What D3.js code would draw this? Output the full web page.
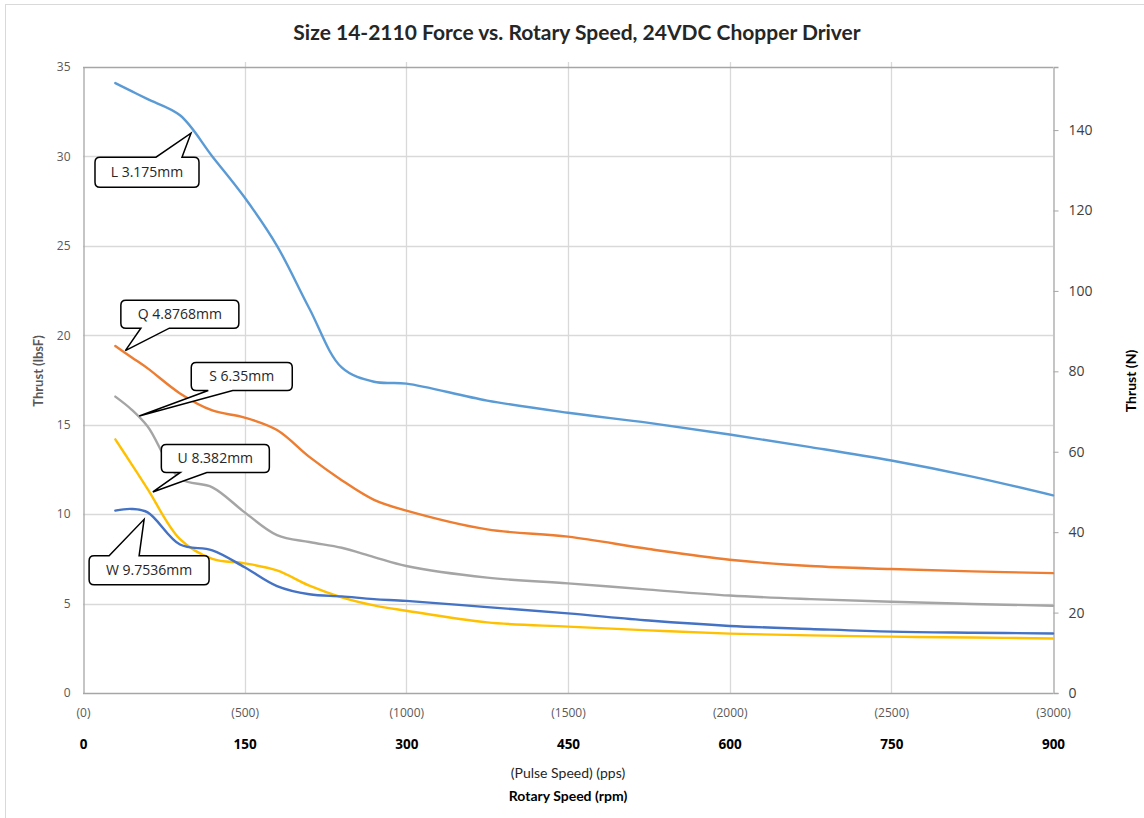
<!DOCTYPE html>
<html>
<head>
<meta charset="utf-8">
<script src="https://cdnjs.cloudflare.com/ajax/libs/d3/7.8.5/d3.min.js"></script>
<style>
  html, body { margin: 0; padding: 0; background: #fff; }
  svg { display: block; }
</style>
</head>
<body>
<svg id="chart" width="1144" height="818"></svg>
<script>
// Pulse speed sample points (pps) shared by all series
const pps = [100, 150, 200, 300, 400, 500, 600, 700, 800, 900, 1000, 1250, 1500, 1750, 2000, 2250, 2500, 2750, 3000];

// Thrust in lbsF for each lead screw
const seriesL = [34.1, 33.65, 33.2, 32.3, 30.0, 27.7, 25.0, 21.5, 18.2, 17.4, 17.3, 16.35, 15.67, 15.1, 14.45, 13.75, 13.0, 12.1, 11.05];
const seriesQ = [19.4, 18.77, 18.15, 16.75, 15.8, 15.4, 14.7, 13.2, 11.9, 10.8, 10.2, 9.15, 8.74, 8.05, 7.45, 7.1, 6.93, 6.8, 6.7];
const seriesS = [16.57, 15.85, 14.9, 12.0, 11.5, 10.1, 8.83, 8.44, 8.12, 7.6, 7.1, 6.45, 6.13, 5.78, 5.45, 5.25, 5.1, 4.98, 4.88];
const seriesU = [14.18, 12.8, 11.4, 8.6, 7.5, 7.25, 6.85, 6.0, 5.35, 4.9, 4.6, 3.95, 3.71, 3.5, 3.32, 3.22, 3.15, 3.1, 3.05];
const seriesW = [10.2, 10.29, 10.1, 8.3, 7.98, 7.03, 5.98, 5.52, 5.4, 5.25, 5.15, 4.8, 4.45, 4.05, 3.75, 3.58, 3.43, 3.37, 3.33];

const seriesNames = ["L 3.175mm", "Q 4.8768mm", "S 6.35mm", "U 8.382mm", "W 9.7536mm"];
const seriesColors = ["#5B9BD5", "#ED7D31", "#A5A5A5", "#FFC000", "#4472C4"];

// Axis tick values
const ppsTicks = [0, 500, 1000, 1500, 2000, 2500, 3000];
const rpmTicks = [0, 150, 300, 450, 600, 750, 900];
const lbsTicks = [0, 5, 10, 15, 20, 25, 30, 35];
const newtonTicks = [0, 20, 40, 60, 80, 100, 120, 140];

// Callout anchors: point on the curve (pps, lbsF)
const calloutPps = [334, 131, 174, 216, 189];
const calloutLbs = [31.3, 19.14, 15.49, 11.24, 9.71];

const LBF_TO_N = 4.448222;

const svg = d3.select("#chart");
const plotLeft = 83, plotRight = 1053, plotTop = 67, plotBottom = 693;

const x = d3.scaleLinear().domain([0, 3000]).range([plotLeft, plotRight]);
const y = d3.scaleLinear().domain([0, 35]).range([plotBottom, plotTop]);
const yN = d3.scaleLinear().domain([0, 35 * LBF_TO_N]).range([plotBottom, plotTop]);

const tickFont = "'Open Sans', sans-serif";
const titleFont = "Lato, 'Open Sans', sans-serif";

// Outer chart frame
svg.append("rect")
  .attr("x", 5.5).attr("y", 4.5)
  .attr("width", 1160).attr("height", 830)
  .attr("fill", "none").attr("stroke", "#D9D9D9").attr("stroke-width", 1);

// Title
svg.append("text")
  .attr("x", 577).attr("y", 40)
  .attr("text-anchor", "middle")
  .attr("font-family", titleFont).attr("font-weight", "bold")
  .attr("font-size", 21).attr("fill", "#262626")
  .text("Size 14-2110 Force vs. Rotary Speed, 24VDC Chopper Driver");

// Horizontal gridlines
svg.append("g").selectAll("line")
  .data(lbsTicks.filter(d => d > 0 && d < 35))
  .join("line")
  .attr("x1", plotLeft).attr("x2", plotRight)
  .attr("y1", d => Math.round(y(d)) + 0.5).attr("y2", d => Math.round(y(d)) + 0.5)
  .attr("stroke", "#D9D9D9").attr("stroke-width", 1.3);

// Vertical gridlines (extend slightly above the plot as top tick marks)
svg.append("g").selectAll("line")
  .data(ppsTicks.filter(d => d > 0 && d < 3000))
  .join("line")
  .attr("x1", d => Math.round(x(d)) + 0.5).attr("x2", d => Math.round(x(d)) + 0.5)
  .attr("y1", plotTop - 5).attr("y2", plotBottom)
  .attr("stroke", "#D9D9D9").attr("stroke-width", 1.3);

// Top border line
svg.append("line")
  .attr("x1", plotLeft).attr("x2", plotRight)
  .attr("y1", plotTop + 0.5).attr("y2", plotTop + 0.5)
  .attr("stroke", "#A6A6A6").attr("stroke-width", 1.3);

// Left axis
const gLeft = svg.append("g").attr("transform", `translate(${plotLeft + 0.5},0)`)
  .call(d3.axisLeft(y).tickValues(lbsTicks).tickSize(0).tickPadding(13));
gLeft.select(".domain").attr("stroke", "#A6A6A6").attr("stroke-width", 1.3);
gLeft.selectAll("text").attr("font-family", tickFont).attr("font-size", 12).attr("fill", "#595959");

// Right axis (Newtons)
const gRight = svg.append("g").attr("transform", `translate(${plotRight + 0.5},0)`)
  .call(d3.axisRight(yN).tickValues(newtonTicks).tickSize(5).tickPadding(10));
gRight.select(".domain").attr("stroke", "#A6A6A6").attr("stroke-width", 1.3);
gRight.selectAll(".tick line").attr("stroke", "#A6A6A6");
gRight.selectAll("text").attr("font-family", tickFont).attr("font-size", 14).attr("fill", "#404040");

// Bottom axis line
svg.append("line")
  .attr("x1", plotLeft).attr("x2", plotRight)
  .attr("y1", plotBottom + 0.5).attr("y2", plotBottom + 0.5)
  .attr("stroke", "#A6A6A6").attr("stroke-width", 1.3);

// Pulse speed tick labels
const gPps = svg.append("g").attr("transform", `translate(0,${plotBottom})`)
  .call(d3.axisBottom(x).tickValues(ppsTicks).tickSize(0).tickPadding(15).tickFormat(d => `(${d})`));
gPps.select(".domain").remove();
gPps.selectAll("text").attr("font-family", tickFont).attr("font-size", 12).attr("fill", "#595959");

// Rotary speed tick labels (bold row)
const xRpm = d3.scaleLinear().domain([0, 900]).range([plotLeft, plotRight]);
const gRpm = svg.append("g").attr("transform", `translate(0,${plotBottom})`)
  .call(d3.axisBottom(xRpm).tickValues(rpmTicks).tickSize(0).tickPadding(46));
gRpm.select(".domain").remove();
gRpm.selectAll("text").attr("font-family", tickFont).attr("font-size", 13.5)
  .attr("font-weight", "bold").attr("fill", "#000");

// Axis titles
svg.append("text")
  .attr("x", 568).attr("y", 778)
  .attr("text-anchor", "middle")
  .attr("font-family", titleFont).attr("font-size", 14).attr("fill", "#262626")
  .text("(Pulse Speed) (pps)");
svg.append("text")
  .attr("x", 568).attr("y", 801)
  .attr("text-anchor", "middle")
  .attr("font-family", titleFont).attr("font-weight", "bold").attr("font-size", 14).attr("fill", "#000")
  .text("Rotary Speed (rpm)");
svg.append("text")
  .attr("transform", "translate(43,371) rotate(-90)")
  .attr("text-anchor", "middle")
  .attr("font-family", titleFont).attr("font-weight", "bold").attr("font-size", 13).attr("fill", "#595959")
  .text("Thrust (lbsF)");
svg.append("text")
  .attr("transform", "translate(1136,381) rotate(-90)")
  .attr("text-anchor", "middle")
  .attr("font-family", titleFont).attr("font-weight", "bold").attr("font-size", 14).attr("fill", "#000")
  .text("Thrust (N)");

// Series lines
const allSeries = [seriesL, seriesQ, seriesS, seriesU, seriesW];
const line = d3.line()
  .x((d, i) => x(pps[i]))
  .y(d => y(d))
  .curve(d3.curveCatmullRom.alpha(0.5));

svg.append("g").selectAll("path")
  .data(allSeries)
  .join("path")
  .attr("d", d => line(d))
  .attr("fill", "none")
  .attr("stroke", (d, i) => seriesColors[i])
  .attr("stroke-width", 2.4)
  .attr("stroke-linejoin", "round")
  .attr("stroke-linecap", "round");

// Callouts: box offset from the tip, and pointer base positions along the box edge
const calloutBoxes = [
  { dx: -96, dy: 24, w: 104, h: 30, baseA: 61, baseB: 87, edge: "top" },
  { dx: -4.5, dy: -50.5, w: 118, h: 28, baseA: 20, baseB: 48.5, edge: "bottom" },
  { dx: 52, dy: -53.5, w: 101, h: 28, baseA: 17, baseB: 41.5, edge: "bottom" },
  { dx: 8.5, dy: -47.5, w: 108, h: 28, baseA: 19, baseB: 45.5, edge: "bottom" },
  { dx: -55, dy: 36.5, w: 120, h: 29, baseA: 20, baseB: 50, edge: "top" }
];

const gCall = svg.append("g");
calloutBoxes.forEach((b, i) => {
  const tx = x(calloutPps[i]), ty = y(calloutLbs[i]);
  const bx = tx + b.dx, by = ty + b.dy, r = 5;
  const ey = b.edge === "top" ? by : by + b.h;
  let p = `M${bx + r},${by}`;
  if (b.edge === "top") {
    p += `L${bx + b.baseA},${by}L${tx},${ty}L${bx + b.baseB},${by}`;
  }
  p += `L${bx + b.w - r},${by}Q${bx + b.w},${by} ${bx + b.w},${by + r}`;
  p += `L${bx + b.w},${by + b.h - r}Q${bx + b.w},${by + b.h} ${bx + b.w - r},${by + b.h}`;
  if (b.edge === "bottom") {
    p += `L${bx + b.baseB},${ey}L${tx},${ty}L${bx + b.baseA},${ey}`;
  }
  p += `L${bx + r},${by + b.h}Q${bx},${by + b.h} ${bx},${by + b.h - r}`;
  p += `L${bx},${by + r}Q${bx},${by} ${bx + r},${by}Z`;
  gCall.append("path")
    .attr("d", p)
    .attr("fill", "#fff").attr("stroke", "#000").attr("stroke-width", 1.5)
    .attr("stroke-linejoin", "miter");
  gCall.append("text")
    .attr("x", bx + b.w / 2).attr("y", by + b.h / 2 + 5)
    .attr("text-anchor", "middle")
    .attr("font-family", tickFont).attr("font-size", 14).attr("fill", "#262626")
    .text(seriesNames[i]);
});
</script>
</body>
</html>
